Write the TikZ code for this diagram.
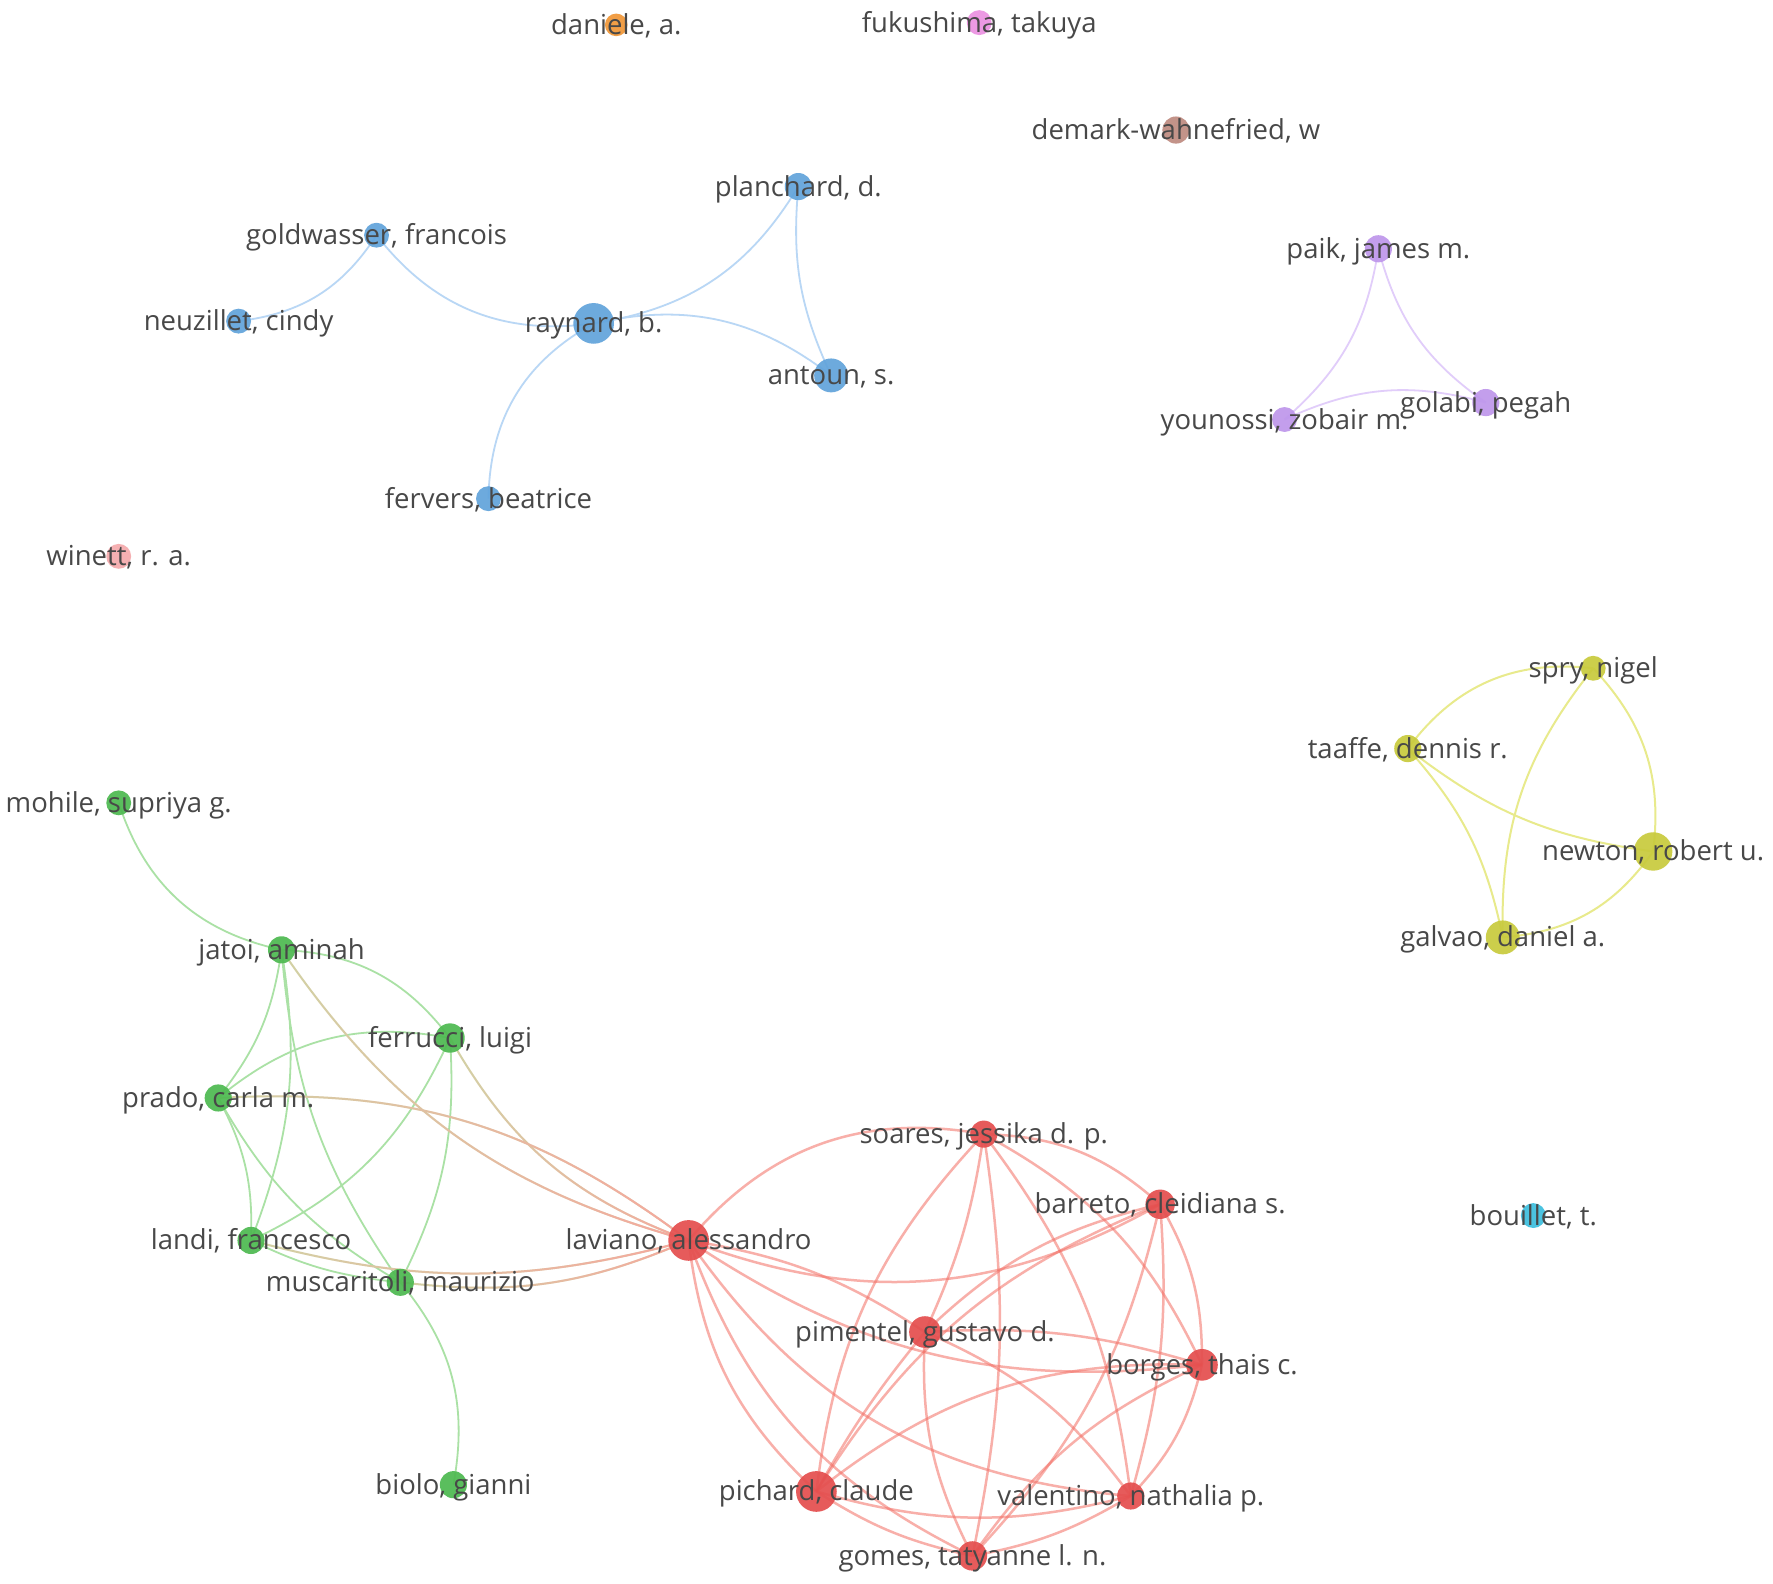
\documentclass[tikz,border=0pt]{standalone}
\usepackage{fontspec}
\setmainfont{Open Sans}
\usetikzlibrary{fadings}
\pgfdeclarelayer{bg}
\pgfdeclarelayer{edges}
\pgfdeclarelayer{fore}
\pgfsetlayers{bg,edges,main,fore}
\definecolor{labgray}{RGB}{72,72,72}
\definecolor{cblue}{RGB}{97,163,219}
\definecolor{cpurple}{RGB}{190,150,235}
\definecolor{cyellow}{RGB}{200,202,60}
\definecolor{cgreen}{RGB}{77,185,80}
\definecolor{cred}{RGB}{228,78,78}
\definecolor{corange}{RGB}{240,150,55}
\definecolor{cpink}{RGB}{235,145,225}
\definecolor{cbrown}{RGB}{190,138,128}
\definecolor{clpink}{RGB}{245,170,172}
\definecolor{ccyan}{RGB}{60,190,222}
\definecolor{eblue}{RGB}{185,215,245}
\definecolor{epurple}{RGB}{225,205,250}
\definecolor{eyellow}{RGB}{232,234,140}
\definecolor{egreen}{RGB}{170,225,165}
\definecolor{etan}{RGB}{210,210,165}
\definecolor{epink}{RGB}{246,168,158}
\definecolor{ered}{RGB}{243,110,100}
\tikzfading[name=fadeR, left color=transparent!100, right color=transparent!0]
\newcommand\vosnode[6]{%
  \node[vn, minimum size={2.2614pt*#4}, fill=#5] (#1) at (#2,#3) {};
  \begin{pgfonlayer}{fore}\node[lab] (l#1) at ([yshift=-9.5pt]#1.center) {#6};\end{pgfonlayer}}
\begin{document}
\begin{tikzpicture}[x=1.1307pt, y=-1.1307pt,
  vn/.style={circle, inner sep=0pt, draw=none, fill opacity=0.92},
  lab/.style={font=\fontsize{27.5}{30}\selectfont, text=labgray, inner sep=0pt, anchor=base},
  eb/.style={draw=eblue, line width=1.8pt},
  ep/.style={draw=epurple, line width=1.8pt},
  ey/.style={draw=eyellow, line width=2pt},
  eg/.style={draw=egreen, line width=1.8pt},
  er/.style={draw=ered, draw opacity=0.55, line width=2.5pt},
  erf/.style={draw=epink, line width=2pt, path fading=fadeR},
  egf/.style={draw=etan, line width=2pt}
]
\begin{pgfonlayer}{bg}
\fill[white] (0,0) rectangle (1568,1400);
\end{pgfonlayer}
\useasboundingbox (0,0) rectangle (1568,1400);

% nodes
\vosnode{dan}{545}{22}{10}{corange}{daniele, a.}
\vosnode{fuk}{866}{20}{11}{cpink}{fukushima, takuya}
\vosnode{dem}{1040}{115}{12}{cbrown}{demark-wahnefried, w}
\vosnode{pla}{706}{165}{12}{cblue}{planchard, d.}
\vosnode{gol}{333}{208}{11}{cblue}{goldwasser, francois}
\vosnode{neu}{211}{284}{11}{cblue}{neuzillet, cindy}
\vosnode{ray}{525}{286}{18}{cblue}{raynard, b.}
\vosnode{ant}{735}{332}{15}{cblue}{antoun, s.}
\vosnode{fer}{432}{441}{11}{cblue}{fervers, beatrice}
\vosnode{win}{105}{492}{11}{clpink}{winett, r. a.}
\vosnode{pai}{1219}{220}{12}{cpurple}{paik, james m.}
\vosnode{you}{1136}{371}{11}{cpurple}{younossi, zobair m.}
\vosnode{gla}{1314}{356}{12}{cpurple}{golabi, pegah}
\vosnode{spr}{1409}{591}{11}{cyellow}{spry, nigel}
\vosnode{taa}{1245}{662}{12}{cyellow}{taaffe, dennis r.}
\vosnode{new}{1462}{753}{17}{cyellow}{newton, robert u.}
\vosnode{gal}{1329}{829}{15}{cyellow}{galvao, daniel a.}
\vosnode{bou}{1356}{1075}{11}{ccyan}{bouillet, t.}
\vosnode{moh}{105}{710}{11}{cgreen}{mohile, supriya g.}
\vosnode{jat}{249}{840}{12}{cgreen}{jatoi, aminah}
\vosnode{fru}{398}{918}{13}{cgreen}{ferrucci, luigi}
\vosnode{pra}{193}{971}{12}{cgreen}{prado, carla m.}
\vosnode{lan}{222}{1097}{12}{cgreen}{landi, francesco}
\vosnode{mus}{354}{1134}{12}{cgreen}{muscaritoli, maurizio}
\vosnode{bio}{401}{1313}{12}{cgreen}{biolo, gianni}
\vosnode{lav}{609}{1097}{18}{cred}{laviano, alessandro}
\vosnode{soa}{870}{1003}{12}{cred}{soares, jessika d. p.}
\vosnode{bar}{1026}{1065}{13}{cred}{barreto, cleidiana s.}
\vosnode{pim}{818}{1178}{14}{cred}{pimentel, gustavo d.}
\vosnode{bor}{1063}{1207}{14}{cred}{borges, thais c.}
\vosnode{pic}{722}{1319}{18}{cred}{pichard, claude}
\vosnode{val}{1000}{1323}{12}{cred}{valentino, nathalia p.}
\vosnode{gom}{860}{1376}{13}{cred}{gomes, tatyanne l. n.}

\begin{pgfonlayer}{edges}
% blue
\draw[eb] (gol.center) to[bend left=25] (neu.center);
\draw[eb] (gol.center) to[bend right=30] (ray.center);
\draw[eb] (ray.center) to[bend right=25] (pla.center);
\draw[eb] (ray.center) to[bend left=25] (ant.center);
\draw[eb] (pla.center) to[bend right=15] (ant.center);
\draw[eb] (ray.center) to[bend right=30] (fer.center);
% purple
\draw[ep] (pai.center) to[bend left=20] (you.center);
\draw[ep] (pai.center) to[bend right=20] (gla.center);
\draw[ep] (you.center) to[bend left=20] (gla.center);
% yellow
\draw[ey] (spr.center) to[bend right=30] (taa.center);
\draw[ey] (spr.center) to[bend left=25] (new.center);
\draw[ey] (spr.center) to[bend right=20] (gal.center);
\draw[ey] (taa.center) to[bend right=15] (new.center);
\draw[ey] (taa.center) to[bend left=15] (gal.center);
\draw[ey] (new.center) to[bend left=25] (gal.center);
% green
\draw[eg] (moh.center) to[bend right=30] (jat.center);
\draw[eg] (jat.center) to[bend left=25] (fru.center);
\draw[eg] (jat.center) to[bend left=15] (pra.center);
\draw[eg] (jat.center) to[bend left=15] (lan.center);
\draw[eg] (jat.center) to[bend right=15] (mus.center);
\draw[eg] (fru.center) to[bend right=25] (pra.center);
\draw[eg] (fru.center) to[bend left=20] (lan.center);
\draw[eg] (fru.center) to[bend left=15] (mus.center);
\draw[eg] (pra.center) to[bend left=15] (lan.center);
\draw[eg] (pra.center) to[bend right=15] (mus.center);
\draw[eg] (lan.center) to[bend right=10] (mus.center);
\draw[eg] (mus.center) to[bend left=25] (bio.center);
% green-red
\draw[egf] (jat.center) to[bend right=20] (lav.center);
\draw[erf] (jat.center) to[bend right=20] (lav.center);
\draw[egf] (fru.center) to[bend right=20] (lav.center);
\draw[erf] (fru.center) to[bend right=20] (lav.center);
\draw[egf] (pra.center) to[bend left=20] (lav.center);
\draw[erf] (pra.center) to[bend left=20] (lav.center);
\draw[egf] (lan.center) to[bend right=15] (lav.center);
\draw[erf] (lan.center) to[bend right=15] (lav.center);
\draw[egf] (mus.center) to[bend right=15] (lav.center);
\draw[erf] (mus.center) to[bend right=15] (lav.center);
% red
\draw[er] (lav.center) to[bend left=30] (soa.center);
\draw[er] (lav.center) to[bend right=25] (bar.center);
\draw[er] (lav.center) to[bend left=12] (pim.center);
\draw[er] (lav.center) to[bend right=20] (bor.center);
\draw[er] (lav.center) to[bend right=20] (pic.center);
\draw[er] (lav.center) to[bend right=22] (gom.center);
\draw[er] (lav.center) to[bend right=25] (val.center);
\draw[er] (soa.center) to[bend left=20] (bar.center);
\draw[er] (soa.center) to[bend left=8] (pim.center);
\draw[er] (soa.center) to[bend left=18] (bor.center);
\draw[er] (soa.center) to[bend right=18] (pic.center);
\draw[er] (soa.center) to[bend left=15] (val.center);
\draw[er] (soa.center) to[bend left=10] (gom.center);
\draw[er] (bar.center) to[bend right=15] (pim.center);
\draw[er] (bar.center) to[bend left=15] (bor.center);
\draw[er] (bar.center) to[bend right=18] (pic.center);
\draw[er] (bar.center) to[bend left=10] (val.center);
\draw[er] (bar.center) to[bend left=15] (gom.center);
\draw[er] (pim.center) to[bend left=10] (bor.center);
\draw[er] (pim.center) to[bend right=5] (pic.center);
\draw[er] (pim.center) to[bend left=15] (val.center);
\draw[er] (pim.center) to[bend right=15] (gom.center);
\draw[er] (bor.center) to[bend right=20] (pic.center);
\draw[er] (bor.center) to[bend left=15] (val.center);
\draw[er] (bor.center) to[bend right=15] (gom.center);
\draw[er] (pic.center) to[bend right=15] (val.center);
\draw[er] (pic.center) to[bend right=10] (gom.center);
\draw[er] (val.center) to[bend left=10] (gom.center);
\end{pgfonlayer}
\end{tikzpicture}
\end{document}
